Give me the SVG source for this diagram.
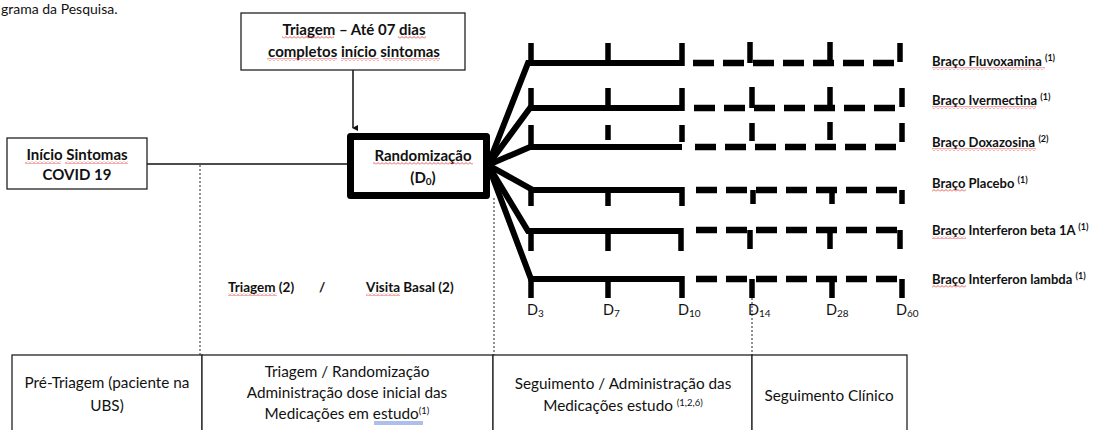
<svg xmlns="http://www.w3.org/2000/svg" width="1095" height="430" viewBox="0 0 1095 430">
<style>
  text { font-family: Lato, "Open Sans", "Liberation Sans", sans-serif; fill: #111; }
  .b { font-weight: bold; }
  .box { fill: #fff; stroke: #222; stroke-width: 1.3; }
  .thin { stroke: #111; stroke-width: 1.5; fill: none; }
  .dot { stroke: #222; stroke-width: 1; stroke-dasharray: 2 2; fill: none; }
  .arm { stroke: #000; stroke-width: 6; fill: none; stroke-linejoin: miter; }
  .dash { stroke: #000; stroke-width: 6.5; fill: none; stroke-dasharray: 21 9; }
  .tick { stroke: #000; stroke-width: 5.5; fill: none; }
  .sq { fill: url(#squig); }
  .lbl { font-size: 13px; font-weight: bold; }
  .sup { font-size: 9px; font-weight: bold; }
  .dl { font-size: 14.5px; }
  .tb { font-size: 15.3px; text-anchor: middle; }
  .hd { font-size: 15px; font-weight: bold; text-anchor: middle; }
</style>
<defs>
  <pattern id="squig" patternUnits="userSpaceOnUse" width="4" height="3">
    <path d="M0,2.5 L2,0.5 L4,2.5" stroke="#e03030" stroke-width="0.8" fill="none"/>
  </pattern>
  <marker id="arr" markerWidth="6" markerHeight="6" refX="3" refY="5" orient="auto-start-reverse" markerUnits="userSpaceOnUse" viewBox="0 0 6 6">
    <path d="M0,0 L6,0 L3,6 Z" fill="#111"/>
  </marker>
</defs>

<text x="1" y="14" font-size="14">grama da Pesquisa.</text>

<g id="connectors">
  <line class="thin" x1="147" y1="164" x2="350" y2="164"/>
  <line class="thin" x1="353" y1="70" x2="353" y2="128" marker-end="url(#arr)"/>
  <line class="dot" x1="200" y1="165" x2="200" y2="355"/>
  <line class="dot" x1="494" y1="198" x2="494" y2="355"/>
  <line class="dot" x1="752" y1="298" x2="752" y2="355"/>
</g>

<g id="node-triagem">
  <rect class="box" x="241" y="13" width="224" height="57"/>
  <text class="hd" x="354" y="35">Triagem – Até 07 dias</text>
  <text class="hd" x="354" y="57">completos início sintomas</text>
  <rect class="sq" x="282" y="36" width="52" height="3"/>
  <rect class="sq" x="398" y="36" width="28" height="3"/>
  <rect class="sq" x="267" y="58" width="70" height="3"/>
  <rect class="sq" x="341" y="58" width="38" height="3"/>
  <rect class="sq" x="383" y="58" width="57" height="3"/>
</g>

<g id="node-inicio">
  <rect class="box" x="7" y="138" width="140" height="51"/>
  <text class="hd" x="77" y="160">Início Sintomas</text>
  <text class="hd" x="77" y="180">COVID 19</text>
  <rect class="sq" x="25" y="161" width="36" height="3"/>
  <rect class="sq" x="65" y="161" width="63" height="3"/>
</g>

<g id="node-randomizacao">
  <rect x="350.5" y="136.5" width="136" height="59" fill="#fff" stroke="#000" stroke-width="7" stroke-linejoin="round"/>
  <text class="hd" x="423" y="161">Randomização</text>
  <text class="hd" x="423" y="183">(D<tspan font-size="10" dy="2">0</tspan><tspan dy="-2">)</tspan></text>
  <rect class="sq" x="373" y="162" width="100" height="3"/>
</g>

<g id="arms">
  <path class="arm" d="M488,165 L528,63 L682,63"/>
  <path class="arm" d="M488,165 L530,108 L682,108"/>
  <path class="arm" d="M488,165 L530,147 L682,147"/>
  <path class="arm" d="M488,165 L533,190 L682,190"/>
  <path class="arm" d="M488,165 L528,231 L682,231"/>
  <path class="arm" d="M488,165 L531,279 L682,279"/>

  <line class="dash" x1="693" y1="63" x2="894" y2="63"/>
  <line class="dash" x1="694" y1="108" x2="896" y2="108"/>
  <line class="dash" x1="695" y1="147" x2="897" y2="147"/>
  <line class="dash" x1="696" y1="190" x2="897" y2="190"/>
  <line class="dash" x1="696" y1="230" x2="897" y2="230"/>
  <line class="dash" x1="696" y1="279" x2="897" y2="279"/>

  <path class="tick" d="M531,43V63 M608,43V63 M682,43V66 M750,42V63 M830,42V63 M900,43V62"/>
  <path class="tick" d="M531,88V108 M608,88V108 M682,88V111 M752,87V108 M830,87V108 M902,88V107"/>
  <path class="tick" d="M531,125V147 M608,125V140 M682,125V142 M752,123V141 M830,122V140 M902,123V142"/>
  <path class="tick" d="M531,190V206 M608,190V206 M682,187V206 M753,190V204 M832,190V204 M902,190V204"/>
  <path class="tick" d="M531,231V251 M608,231V251 M681,228V251 M750,230V249 M830,230V249 M900,230V249"/>
  <path class="tick" d="M531,279V298 M608,279V298 M682,276V298 M752,279V298 M832,279V298 M902,279V298"/>
</g>

<g id="arm-labels">
  <text class="lbl" x="932" y="66">Braço Fluvoxamina <tspan class="sup" dy="-5">(1)</tspan></text>
  <text class="lbl" x="932" y="105">Braço Ivermectina <tspan class="sup" dy="-5">(1)</tspan></text>
  <text class="lbl" x="932" y="147">Braço Doxazosina <tspan class="sup" dy="-5">(2)</tspan></text>
  <text class="lbl" x="932" y="188">Braço Placebo <tspan class="sup" dy="-5">(1)</tspan></text>
  <text class="lbl" x="932" y="235">Braço Interferon beta 1A <tspan class="sup" dy="-5">(1)</tspan></text>
  <text class="lbl" x="932" y="284">Braço Interferon lambda <tspan class="sup" dy="-5">(1)</tspan></text>
  <rect class="sq" x="932" y="67" width="113" height="3"/>
  <rect class="sq" x="932" y="106" width="104" height="3"/>
  <rect class="sq" x="932" y="148" width="104" height="3"/>
  <rect class="sq" x="932" y="189" width="34" height="3"/>
  <rect class="sq" x="932" y="236" width="34" height="3"/>
  <rect class="sq" x="932" y="285" width="34" height="3"/>
</g>

<g id="day-labels">
  <text class="dl" x="527" y="315">D<tspan font-size="10" dy="2">3</tspan></text>
  <text class="dl" x="603" y="315">D<tspan font-size="10" dy="2">7</tspan></text>
  <text class="dl" x="678" y="315">D<tspan font-size="10" dy="2">10</tspan></text>
  <text class="dl" x="748" y="315">D<tspan font-size="10" dy="2">14</tspan></text>
  <text class="dl" x="826" y="315">D<tspan font-size="10" dy="2">28</tspan></text>
  <text class="dl" x="896" y="315">D<tspan font-size="10" dy="2">60</tspan></text>
</g>

<g id="phase-labels">
  <text class="b" x="228" y="292" font-size="13.5">Triagem (2)</text>
  <text class="b" x="319" y="292" font-size="13.5">/</text>
  <text class="b" x="366" y="292" font-size="13.5">Visita Basal (2)</text>
  <rect class="sq" x="228" y="293" width="49" height="3"/>
  <rect class="sq" x="366" y="293" width="34" height="3"/>
</g>

<g id="table">
  <rect class="box" x="12" y="355" width="190" height="85"/>
  <rect class="box" x="202" y="355" width="291" height="85"/>
  <rect class="box" x="493" y="355" width="259" height="85"/>
  <rect class="box" x="752" y="355" width="155" height="85"/>
  <text class="tb" x="107" y="388">Pré-Triagem (paciente na</text>
  <text class="tb" x="107" y="411">UBS)</text>
  <text class="tb" x="347" y="377">Triagem / Randomização</text>
  <text class="tb" x="347" y="398">Administração dose inicial das</text>
  <text class="tb" x="347" y="419">Medicações em estudo<tspan font-size="9.5" dy="-5">(1)</tspan></text>
  <line x1="374" y1="422" x2="423" y2="422" stroke="#3060d0" stroke-width="0.8"/>
  <line x1="374" y1="424" x2="423" y2="424" stroke="#3060d0" stroke-width="0.8"/>
  <text class="tb" x="623" y="389">Seguimento / Administração das</text>
  <text class="tb" x="623" y="411">Medicações estudo <tspan font-size="9.5" dy="-5">(1,2,6)</tspan></text>
  <text class="tb" x="829" y="401">Seguimento Clínico</text>
</g>
</svg>
